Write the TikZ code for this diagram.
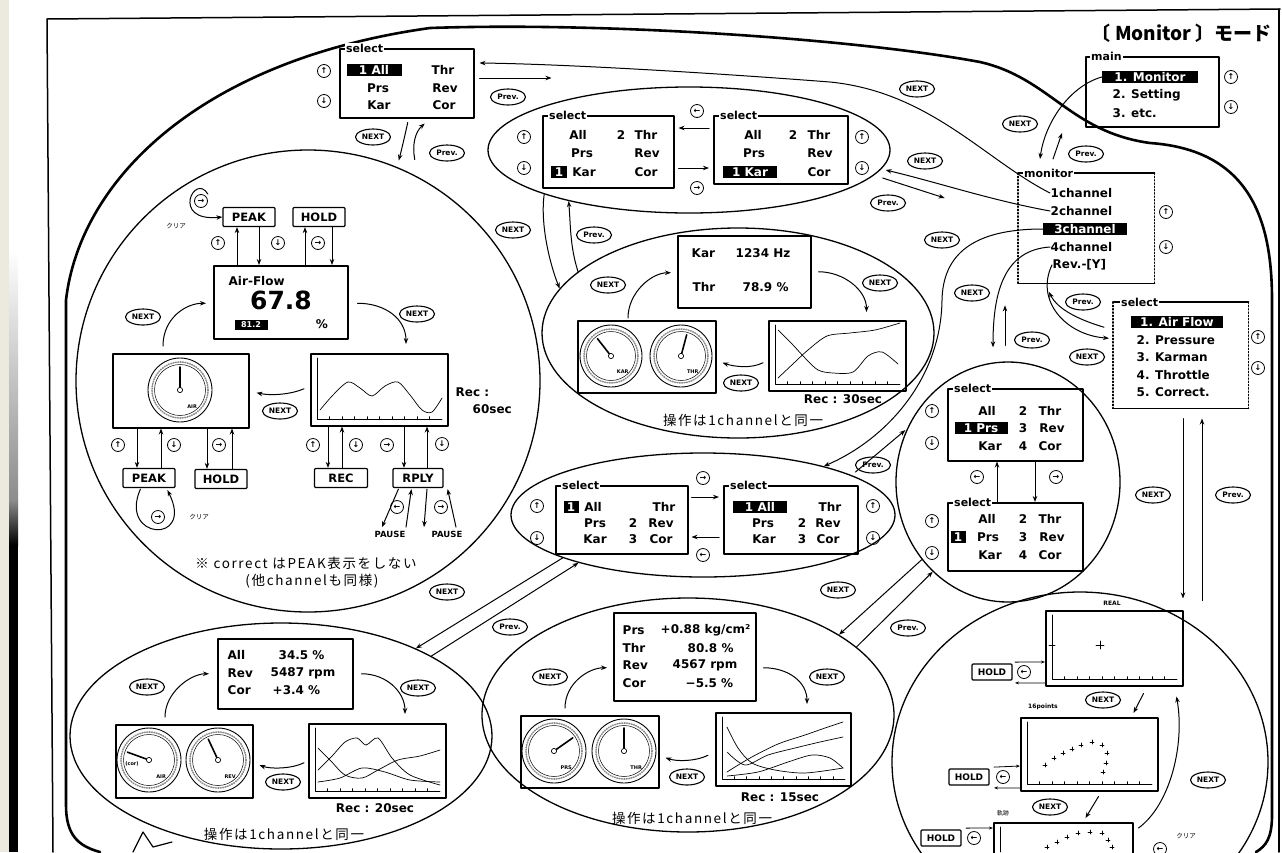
\documentclass[tikz,border=0pt]{standalone}
\usepackage{fontspec}
\setmainfont{DejaVu Sans}
\newfontfamily\jp{Noto Sans CJK JP}
\newfontfamily\jpw[LetterSpace=12]{Noto Sans CJK JP}
\usetikzlibrary{shapes.geometric,arrows.meta,calc}
\definecolor{beige}{RGB}{236,234,222}
\tikzset{
  frm/.style={line width=1.5pt},
  blob/.style={line width=2.6pt},
  oval/.style={draw, ellipse, line width=1.3pt, inner sep=0pt},
  box/.style={draw, line width=1.5pt, inner sep=0pt, anchor=north west},
  tag/.style={fill=white, inner sep=1pt, anchor=west, font=\fontsize{11}{12}\selectfont\bfseries},
  it/.style={inner sep=0.5pt, font=\fontsize{12}{13}\selectfont\bfseries},
  itw/.style={it, anchor=west},
  hl/.style={it, fill=black, text=white, inner sep=1.5pt},
  lb/.style={ellipse, draw, line width=1.1pt, inner sep=0pt, minimum width=35, minimum height=16, font=\fontsize{7.5}{8}\selectfont\bfseries},
  cb/.style={circle, draw, line width=0.8pt, inner sep=0pt, minimum size=13, font=\fontsize{8}{8}\selectfont\bfseries},
  arr/.style={-{Stealth[length=6pt,width=4.5pt]}, line width=1pt},
  sarr/.style={-{Stealth[length=4pt,width=3pt]}, line width=0.8pt},
  btn/.style={draw, line width=1.2pt, inner sep=1pt, minimum height=19, font=\fontsize{11.5}{12}\selectfont\bfseries, rounded corners=1pt},
  sbtn/.style={btn, minimum height=16, font=\fontsize{9}{10}\selectfont\bfseries},
  rec/.style={inner sep=0.5pt, font=\fontsize{12}{13}\selectfont\bfseries},
  pz/.style={inner sep=0.5pt, font=\fontsize{8.5}{9}\selectfont\bfseries},
  sm/.style={inner sep=0.5pt, font=\fontsize{6}{7}\selectfont\bfseries},
  gl/.style={inner sep=0pt, font=\fontsize{5}{5}\selectfont\bfseries},
  jt/.style={inner sep=0.5pt, font=\jpw\fontsize{13.5}{15}\selectfont},
  js/.style={inner sep=0.5pt, font=\jp\fontsize{6.5}{7}\selectfont},
  gline/.style={line width=0.7pt},
}
\newcommand\gaugeic[5]{%
  \draw[line width=0.9pt] (#1,#2) circle[radius=#3];
  \draw[line width=1.6pt, black!45, dash pattern=on 0.8pt off 1.6pt] (#1,#2) circle[radius=#3-4];
  \draw[line width=0.5pt] (#1,#2) circle[radius=#3-6.5];
  \draw[line width=1.6pt] (#1,#2) -- ++(#4:#3-9);
  \draw[fill=white, line width=0.7pt] (#1,#2) circle[radius=2.6];
  \node[gl] (gauge#1x#2) at ({#1+#3*0.38},{#2+#3*0.52}) {#5};
}
\newcommand\graphaxes[4]{%
  \draw[line width=0.7pt] ({#1+7},{#2+5}) -- ({#1+7},{#4-6}) -- ({#3-5},{#4-6});
  \foreach \k in {1,...,9} \draw[line width=0.4pt] ({#1+7+\k*(#3-#1-12)/10},{#4-6}) -- ++(0,-2.5);
}
\begin{document}
\begin{tikzpicture}[x=1pt,y=-1pt,line cap=round,line join=round]
\useasboundingbox (0,0) rectangle (1282,852);
\fill[white] (0,0) rectangle (1282,852);
\fill[beige] (0,0) rectangle (9,852);
\shade[top color=white, bottom color=black!45] (9,250) rectangle (18,500);
\shade[top color=black!45, bottom color=black] (9,500) rectangle (18,545);
\fill[black] (9,545) rectangle (18,852);
% frame
\draw[frm] (47,19) -- (1280,9);
\draw[frm] (47,19) -- (53,852);
\draw[frm] (1279,9) -- (1279,852);
% outer blob
\draw[blob] (100,852) .. controls (78,846) and (66,835) .. (66,805) -- (66,300)
  .. controls (80,180) and (200,60) .. (430,28)
  .. controls (600,22) and (850,38) .. (980,62)
  .. controls (1050,78) and (1070,132) .. (1150,143)
  .. controls (1250,150) and (1272,220) .. (1272,300) -- (1272,815)
  .. controls (1272,838) and (1266,846) .. (1256,852);
\draw[line width=1.2pt] (133,852) -- (143,832) -- (153,847) -- (172,842);
% title
\node[font=\jp\bfseries\fontsize{19}{20}\selectfont, anchor=east, inner sep=0] (title) at (1272,33) {〔 Monitor 〕モード};

% ===== main box
\node[box, minimum width=133, minimum height=70] (mainb) at (1085,56) {};
\node[tag] (maint) at ($(mainb.north west)+(5,0)$) {main};
\node[hl, minimum width=96] (m1) at (1150,77) {1. Monitor};
\node[itw] (m2) at (1112,95) {2. Setting};
\node[itw] (m3) at (1112,113) {3. etc.};
\node[cb] (mu) at (1231,77) {↑};
\node[cb] (md) at (1231,107) {↓};

% ===== monitor box
\node[box, draw=none, minimum width=135, minimum height=109] (mon) at (1018,173) {};
\draw[line width=1.5pt] (mon.north west) -- (mon.north east) (mon.south west) -- (mon.south east);
\draw[line width=1.3pt, dotted] (mon.north west) -- (mon.south west) (mon.north east) -- (mon.south east);
\node[tag] (mont) at ($(mon.north west)+(5,0)$) {monitor};
\node[itw] (c1) at (1050,193) {1channel};
\node[itw] (c2) at (1050,211) {2channel};
\node[hl, minimum width=84] (c3) at (1085,229) {3channel};
\node[itw] (c4) at (1050,247) {4channel};
\node[itw] (c5) at (1052,265) {Rev.-[Y]};
\node[cb] (monu) at (1166,212) {↑};
\node[cb] (mond) at (1166,247) {↓};

% ===== select list box
\node[box, draw=none, minimum width=134, minimum height=105] (lst) at (1113,302) {};
\draw[line width=1.5pt] (lst.north west) -- (lst.north east) (lst.south west) -- (lst.south east);
\draw[line width=1.3pt, dotted] (lst.north west) -- (lst.south west) (lst.north east) -- (lst.south east);
\node[tag] (lstt) at ($(lst.north west)+(7,0)$) {select};
\node[hl, minimum width=92] (l1) at (1177,322) {1. Air Flow};
\node[itw] (l2) at (1136,340) {2. Pressure};
\node[itw] (l3) at (1136,357) {3. Karman};
\node[itw] (l4) at (1136,375) {4. Throttle};
\node[itw] (l5) at (1136,392) {5. Correct.};
\node[cb] (lstu) at (1258,337) {↑};
\node[cb] (lstd) at (1258,368) {↓};

% ===== top select box (1channel)
\node[box, minimum width=134, minimum height=69] (s1) at (339,48) {};
\node[tag] (s1t) at ($(s1.north west)+(6,0)$) {select};
\node[hl, minimum width=55] (s1a) at (374,70) {1 All};
\node[it] (s1b) at (378,88) {Prs};
\node[it] (s1c) at (379,105) {Kar};
\node[it] (s1d) at (443,70) {Thr};
\node[it] (s1e) at (445,88) {Rev};
\node[it] (s1f) at (444,105) {Cor};
\node[cb] (s1u) at (324,71) {↑};
\node[cb] (s1w) at (324,101) {↓};

% ===== ellipse 2 (2channel select)
\node[oval, minimum width=402, minimum height=126] (e2) at (689,150) {};
\node[box, minimum width=131, minimum height=72] (s2a) at (542,115) {};
\node[tag] (s2at) at ($(s2a.north west)+(6,0)$) {select};
\node[it] (s2a1) at (578,135) {All};
\node[it] (s2a2) at (621,135) {2};
\node[it] (s2a3) at (646,135) {Thr};
\node[it] (s2a4) at (582,153) {Prs};
\node[it] (s2a5) at (647,153) {Rev};
\node[hl, minimum width=16] (s2a6) at (559,172) {1};
\node[it] (s2a7) at (584,172) {Kar};
\node[it] (s2a8) at (646,172) {Cor};
\node[cb] (s2au) at (524,137) {↑};
\node[cb] (s2ad) at (524,168) {↓};
\node[box, minimum width=134, minimum height=68] (s2b) at (713,115) {};
\node[tag] (s2bt) at ($(s2b.north west)+(6,0)$) {select};
\node[it] (s2b1) at (753,135) {All};
\node[it] (s2b2) at (793,135) {2};
\node[it] (s2b3) at (819,135) {Thr};
\node[it] (s2b4) at (754,153) {Prs};
\node[it] (s2b5) at (820,153) {Rev};
\node[hl, minimum width=54] (s2b6) at (750,172) {1 Kar};
\node[it] (s2b7) at (819,172) {Cor};
\node[cb] (s2bu) at (862,137) {↑};
\node[cb] (s2bd) at (862,168) {↓};
\node[cb] (e2l) at (697,111) {←};
\draw[arr] ($(s2b.north west)+(-4,13)$) -- ($(s2a.north east)+(4,13)$);
\draw[arr] ($(s2a.north east)+(4,53)$) -- ($(s2b.north west)+(-4,53)$);
\node[cb] (e2r) at (697,188) {→};

% ===== ellipse 3 (2channel display)
\node[oval, minimum width=392, minimum height=210] (e3) at (738,333) {};
\node[box, minimum width=133, minimum height=72] (t3) at (677,235) {};
\node[itw] (t3a) at (691,253) {Kar};
\node[itw] (t3b) at (735,253) {1234 Hz};
\node[itw] (t3c) at (692,287) {Thr};
\node[itw] (t3d) at (742,287) {78.9 \%};
\node[box, minimum width=138, minimum height=72] (g3) at (577,320) {};
\gaugeic{611}{356}{31}{-128}{KAR}
\gaugeic{681}{356}{31}{-75}{THR}
\node[box, minimum width=137, minimum height=70] (p3) at (768,320) {};
\graphaxes{768}{320}{905}{390}
\draw[gline] plot[smooth] coordinates {(778,330) (793,345) (805,358) (818,370) (833,373) (853,372) (868,356) (882,352) (898,364)};
\draw[gline] plot[smooth] coordinates {(778,378) (795,362) (808,350) (827,336) (850,333) (875,330) (900,323)};
\draw[arr] ($(g3.north west)+(51,-2)$) .. controls +(0,-25) and +(-20,0) .. ($(t3.west)+(-6,1)$);
\draw[arr] ($(t3.east)+(7,0)$) .. controls +(25,0) and +(0,-22) .. ($(p3.north east)+(-40,-8)$);
\draw[arr] ($(p3.west)+(-5,7)$) .. controls +(-12,6) and +(12,4) .. ($(g3.east)+(6,6)$);
\node[lb] (n3a) at (608,285) {NEXT};
\node[lb] (n3b) at (880,283) {NEXT};
\node[lb] (n3c) at (741,383) {NEXT};
\node[rec] (rec3) at (843,399) {Rec : 30sec};
\node[jt] (op3) at (743,420) {操作は1channelと同一};

% ===== ellipse 4 (3channel select)
\node[oval, minimum width=384, minimum height=124] (e4) at (703,515) {};
\node[box, minimum width=132, minimum height=68] (s4a) at (555,485) {};
\node[tag] (s4at) at ($(s4a.north west)+(6,0)$) {select};
\node[hl, minimum width=15] (s4a1) at (571,507) {1};
\node[it] (s4a2) at (593,507) {All};
\node[it] (s4a3) at (664,507) {Thr};
\node[it] (s4a4) at (595,523) {Prs};
\node[it] (s4a5) at (633,523) {2};
\node[it] (s4a6) at (661,523) {Rev};
\node[it] (s4a7) at (595,539) {Kar};
\node[it] (s4a8) at (633,539) {3};
\node[it] (s4a9) at (661,539) {Cor};
\node[cb] (s4au) at (537,506) {↑};
\node[cb] (s4ad) at (537,538) {↓};
\node[box, minimum width=134, minimum height=68] (s4b) at (723,485) {};
\node[tag] (s4bt) at ($(s4b.north west)+(6,0)$) {select};
\node[hl, minimum width=54] (s4b1) at (760,507) {1 All};
\node[it] (s4b2) at (830,507) {Thr};
\node[it] (s4b3) at (763,523) {Prs};
\node[it] (s4b4) at (802,523) {2};
\node[it] (s4b5) at (828,523) {Rev};
\node[it] (s4b6) at (764,539) {Kar};
\node[it] (s4b7) at (802,539) {3};
\node[it] (s4b8) at (828,539) {Cor};
\node[cb] (s4bu) at (873,506) {↑};
\node[cb] (s4bd) at (873,538) {↓};
\node[cb] (e4r) at (703,478) {→};
\draw[arr] ($(s4a.north east)+(3,12)$) -- ($(s4b.north west)+(-4,12)$);
\draw[arr] ($(s4b.north west)+(-4,52)$) -- ($(s4a.north east)+(3,52)$);
\node[cb] (e4l) at (703,555) {←};

% ===== 4channel select circle
\node[oval, minimum width=224, minimum height=240] (pc) at (1008,482) {};
\node[box, minimum width=135, minimum height=72] (sp1) at (947,388) {};
\node[tag] (sp1t) at ($(sp1.north west)+(6,0)$) {select};
\node[it] (sp1a) at (987,411) {All};
\node[it] (sp1b) at (1023,411) {2};
\node[it] (sp1c) at (1050,411) {Thr};
\node[hl, minimum width=53] (sp1d) at (981,428) {1 Prs};
\node[it] (sp1e) at (1023,428) {3};
\node[it] (sp1f) at (1052,428) {Rev};
\node[it] (sp1g) at (990,446) {Kar};
\node[it] (sp1h) at (1023,446) {4};
\node[it] (sp1i) at (1050,446) {Cor};
\node[cb] (sp1u) at (932,411) {↑};
\node[cb] (sp1w) at (932,443) {↓};
\node[box, minimum width=135, minimum height=68] (sp2) at (947,502) {};
\node[tag] (sp2t) at ($(sp2.north west)+(6,0)$) {select};
\node[it] (sp2a) at (987,519) {All};
\node[it] (sp2b) at (1023,519) {2};
\node[it] (sp2c) at (1050,519) {Thr};
\node[hl, minimum width=15] (sp2d) at (958,537) {1};
\node[it] (sp2e) at (988,537) {Prs};
\node[it] (sp2f) at (1023,537) {3};
\node[it] (sp2g) at (1052,537) {Rev};
\node[it] (sp2h) at (990,555) {Kar};
\node[it] (sp2i) at (1023,555) {4};
\node[it] (sp2j) at (1050,555) {Cor};
\node[cb] (sp2u) at (932,521) {↑};
\node[cb] (sp2w) at (932,553) {↓};
\node[cb] (pcl) at (977,477) {←};
\draw[arr] (sp2.north -| 997,0) -- (sp1.south -| 997,0);
\draw[arr] (sp1.south -| 1035,0) -- (sp2.north -| 1035,0);
\node[cb] (pcr) at (1056,477) {→};

% ===== left circle (1channel display)
\node[oval, minimum width=464, minimum height=462] (e1) at (308,381) {};
\node[btn, minimum width=52] (pk1) at (249,217) {PEAK};
\node[btn, minimum width=52] (hd1) at (319,217) {HOLD};
\node[cb] (cA) at (201,201) {→};
\node[js] (kr1) at (176,226) {クリア};
\draw[arr] ($(cA.north east)+(2,-2)$) .. controls (195,172) and (170,222) .. (pk1.west);
\node[box, minimum width=134, minimum height=73] (af) at (213,265) {};
\node[itw] (af1) at (228,281) {Air-Flow};
\node[font=\fontsize{25}{25}\selectfont\bfseries, inner sep=0] (af2) at (281,300) {67.8};
\node[hl, font=\fontsize{8}{9}\selectfont\bfseries, minimum width=33] (af3) at (251,325) {81.2};
\node[it] (af4) at (322,324) {\%};
\draw[arr] (af.north -| 237,0) -- (pk1.south -| 237,0);
\draw[arr] (pk1.south -| 259,0) -- (af.north -| 259,0);
\node[cb] (pk1u) at (218,243) {↑};
\node[cb] (pk1d) at (278,243) {↓};
\draw[arr] (af.north -| 305,0) -- (hd1.south -| 305,0);
\draw[arr] (hd1.south -| 332,0) -- (af.north -| 332,0);
\node[cb] (hd1c) at (318,243) {→};
\node[box, minimum width=136, minimum height=74] (gb1) at (112,353) {};
\gaugeic{180}{390}{32}{-90}{AIR}
\node[box, minimum width=137, minimum height=72] (gr1) at (310,353) {};
\graphaxes{310}{353}{447}{425}
\draw[gline] plot[smooth] coordinates {(320,410) (333,395) (348,382) (360,388) (372,396) (385,386) (398,382) (410,395) (422,410) (432,412) (442,398)};
\draw[arr] ($(gb1.north west)+(51,-7)$) .. controls +(0,-28) and +(-20,0) .. ($(af.west)+(-7,1)$);
\draw[arr] ($(af.east)+(9,1)$) .. controls +(28,0) and +(0,-25) .. ($(gr1.north west)+(96,-9)$);
\draw[arr] ($(gr1.west)+(-6,-1)$) .. controls +(-14,6) and +(14,3) .. ($(gb1.east)+(7,2)$);
\node[lb] (n1a) at (143,317) {NEXT};
\node[lb] (n1b) at (417,314) {NEXT};
\node[lb] (n1c) at (280,411) {NEXT};
\node[rec, anchor=west] (rec1) at (455,392) {Rec :};
\node[rec, anchor=west] (rec1b) at (472,409) {60sec};
\node[btn, minimum width=52] (pk2) at (149,478) {PEAK};
\node[btn, minimum width=52] (hd2) at (221,479) {HOLD};
\node[btn, minimum width=53] (recb) at (341,478) {REC};
\node[btn, minimum width=50] (rply) at (418,478) {RPLY};
\node[cb] (g1u) at (118,445) {↑};
\draw[arr] (gb1.south -| 137,0) -- (pk2.north -| 137,0);
\draw[arr] (pk2.north -| 161,0) -- (gb1.south -| 161,0);
\node[cb] (g1d) at (174,445) {↓};
\draw[arr] (gb1.south -| 207,0) -- (hd2.north -| 207,0);
\draw[arr] (hd2.north -| 232,0) -- (gb1.south -| 232,0);
\node[cb] (g1h) at (219,445) {→};
\node[cb] (r1u) at (313,445) {↑};
\draw[arr] (gr1.south -| 328,0) -- (recb.north -| 328,0);
\draw[arr] (recb.north -| 342,0) -- (gr1.south -| 342,0);
\node[cb] (r1d) at (356,445) {↓};
\node[cb] (r2l) at (387,445) {→};
\draw[arr] (gr1.south -| 404,0) -- (rply.north -| 404,0);
\draw[arr] (rply.north -| 427,0) -- (gr1.south -| 427,0);
\node[cb] (r2d) at (442,444) {↓};
\node[cb] (cB) at (158,517) {→};
\draw[arr] ($(pk2.south west)+(18,1)$) .. controls (118,540) and (195,545) .. ($(pk2.south west)+(45,2)$);
\node[js] (kr2) at (199,517) {クリア};
\node[pz] (pz1) at (390,534) {PAUSE};
\node[pz] (pz2) at (447,534) {PAUSE};
\draw[arr] ($(rply.south west)+(6,1)$) -- ($(pz1.north)+(-8,-3)$);
\draw[arr] ($(pz1.north)+(16,-3)$) -- ($(rply.south west)+(19,1)$);
\node[cb] (pzc1) at (397,507) {←};
\draw[arr] ($(rply.south)+(9,1)$) -- ($(pz2.north)+(-23,-3)$);
\draw[arr] ($(pz2.north)+(9,-3)$) -- ($(rply.south east)+(4,1)$);
\node[cb] (pzc2) at (441,507) {→};
\node[jt] (fn1) at (306,563) {※ correct はPEAK表示をしない};
\node[jt] (fn2) at (312,581) {(他channelも同様)};

% ===== bottom-left ellipse (3channel display)
\node[oval, minimum width=422, minimum height=226] (e5) at (281,736) {};
\node[box, minimum width=135, minimum height=70] (t5) at (217,638) {};
\node[itw] (t5a) at (227,655) {All};
\node[itw] (t5b) at (278,655) {34.5 \%};
\node[itw] (t5c) at (227,673) {Rev};
\node[itw] (t5d) at (270,673) {5487 rpm};
\node[itw] (t5e) at (227,690) {Cor};
\node[itw] (t5f) at (272,690) {+3.4 \%};
\node[box, minimum width=137, minimum height=73] (gb5) at (115,724) {};
\gaugeic{149}{760}{32}{-160}{AIR}
\node[gl] (corl) at (132,764) {(cor)};
\gaugeic{218}{760}{32}{-115}{REV}
\node[box, minimum width=137, minimum height=74] (gr5) at (308,723) {};
\graphaxes{308}{723}{445}{797}
\draw[gline] plot[smooth] coordinates {(318,748) (330,760) (345,775) (362,778) (378,770) (398,760) (420,756) (440,750)};
\draw[gline] plot[smooth] coordinates {(318,770) (333,755) (345,742) (357,738) (366,745) (378,738) (392,758) (410,775) (440,785)};
\draw[gline] plot[smooth] coordinates {(318,782) (340,778) (362,768) (385,772) (410,780) (440,782)};
\draw[arr] ($(gb5.north west)+(50,-7)$) .. controls +(0,-25) and +(-18,0) .. ($(t5.west)+(-8,0)$);
\draw[arr] ($(t5.east)+(8,0)$) .. controls +(25,0) and +(0,-22) .. ($(gr5.north west)+(97,-9)$);
\draw[arr] ($(gr5.west)+(-4,2)$) .. controls +(-12,6) and +(12,4) .. ($(gb5.east)+(6,4)$);
\node[lb] (n5a) at (147,687) {NEXT};
\node[lb] (n5b) at (418,688) {NEXT};
\node[lb] (n5c) at (283,782) {NEXT};
\node[rec] (rec5) at (375,808) {Rec : 20sec};
\node[jt] (op5) at (284,834) {操作は1channelと同一};

% ===== bottom-centre ellipse (4channel display)
\node[oval, minimum width=412, minimum height=234] (e6) at (688,715) {};
\node[box, minimum width=142, minimum height=88] (t6) at (613,612) {};
\node[itw] (t6a) at (622,630) {Prs};
\node[itw] (t6b) at (660,630) {+0.88 kg/cm²};
\node[itw] (t6c) at (622,648) {Thr};
\node[itw] (t6d) at (687,648) {80.8 \%};
\node[itw] (t6e) at (622,665) {Rev};
\node[itw] (t6f) at (672,665) {4567 rpm};
\node[itw] (t6g) at (622,683) {Cor};
\node[itw] (t6h) at (685,683) {−5.5 \%};
\node[box, minimum width=138, minimum height=72] (gb6) at (520,715) {};
\gaugeic{554}{751}{32}{-35}{PRS}
\gaugeic{624}{751}{32}{-90}{THR}
\node[box, minimum width=135, minimum height=73] (gr6) at (715,712) {};
\graphaxes{715}{712}{850}{785}
\draw[gline] plot[smooth] coordinates {(727,727) (738,748) (752,763) (775,770) (805,773) (843,768)};
\draw[gline] plot[smooth] coordinates {(727,772) (750,758) (778,744) (805,735) (825,728) (843,722)};
\draw[gline] plot[smooth] coordinates {(727,752) (745,765) (768,755) (795,748) (820,742) (843,737)};
\draw[gline] plot[smooth] coordinates {(727,776) (758,772) (788,762) (812,755) (830,758) (843,768)};
\draw[arr] ($(gb6.north west)+(45,-7)$) .. controls +(0,-25) and +(-18,0) .. ($(t6.west)+(-6,11)$);
\draw[arr] ($(t6.east)+(7,11)$) .. controls +(25,0) and +(0,-22) .. ($(gr6.north west)+(92,-8)$);
\draw[arr] ($(gr6.west)+(-7,6)$) .. controls +(-12,6) and +(12,4) .. ($(gb6.east)+(6,6)$);
\node[lb] (n6a) at (550,677) {NEXT};
\node[lb] (n6b) at (827,677) {NEXT};
\node[lb] (n6c) at (687,777) {NEXT};
\node[rec] (rec6) at (780,797) {Rec : 15sec};
\node[jt] (op6) at (692,818) {操作は1channelと同一};

% ===== bottom-right ellipse (graph display)
\node[oval, minimum width=376, minimum height=340] (e7) at (1080,762) {};
\node[sm] (real) at (1112,603) {REAL};
\node[box, minimum width=137, minimum height=75] (g71) at (1045,610) {};
\graphaxes{1045}{610}{1182}{685}
\draw[line width=0.8pt] (1096,645) -- (1104,645) (1100,641) -- (1100,649);
\draw[line width=0.8pt] (1049,645) -- (1055,645);
\node[sbtn, minimum width=40] (h71) at (992,672) {HOLD};
\node[cb] (h71c) at (1024,672) {←};
\draw[sarr] ($(h71c.north)+(-9,-3)$) -- (g71.west |- 0,662);
\draw[sarr] (g71.west |- 0,683) -- ($(h71c.south)+(-9,4)$);
\node[lb] (n71) at (1103,700) {NEXT};
\node[sm] (p16) at (1043,707) {16points};
\node[box, minimum width=137, minimum height=73] (g72) at (1020,717) {};
\graphaxes{1020}{717}{1157}{790}
\foreach \x/\y in {1045/765,1054/758,1063/753,1072/749,1081/745,1092/742,1102/745,1107/753,1106/763,1103/772}
  \draw[line width=0.7pt] (\x-2,\y) -- (\x+2,\y) (\x,\y-2) -- (\x,\y+2);
\draw[arr] ($(g71.south east)+(-40,7)$) -- ($(g72.north east)+(-25,-4)$);
\node[sbtn, minimum width=40] (h72) at (969,777) {HOLD};
\node[cb] (h72c) at (1003,777) {←};
\draw[sarr] ($(h72c.north)+(-9,-3)$) -- (g72.west |- 0,766);
\draw[sarr] (g72.west |- 0,788) -- ($(h72c.south)+(-9,4)$);
\node[lb] (n72) at (1050,807) {NEXT};
\node[font=\jp\fontsize{6}{7}\selectfont, inner sep=0] (kiseki) at (1003,813) {軌跡};
\node[box, minimum width=139, minimum height=50] (g73) at (993,822) {};
\draw[line width=0.7pt] (1000,827) -- (1000,852);
\foreach \x/\y in {1047/847,1057/842,1067/837,1078/833,1090/832,1102/833,1108/840,1112/847}
  \draw[line width=0.7pt] (\x-2,\y) -- (\x+2,\y) (\x,\y-2) -- (\x,\y+2);
\draw[arr] ($(g72.south east)+(-60,5)$) -- ($(g73.north east)+(-48,-4)$);
\node[sbtn, minimum width=40] (h73) at (941,838) {HOLD};
\node[cb] (h73c) at (974,838) {←};
\draw[sarr] ($(h73c.north)+(-8,-3)$) -- (g73.west |- 0,828);
\draw[arr] ($(g73.north east)+(5,6)$) .. controls (1170,805) and (1185,745) .. ($(g71.south east)+(-7,10)$);
\node[lb] (n73) at (1208,780) {NEXT};
\node[cb] (crr) at (1160,849) {←};
\node[js] (kr3) at (1186,836) {クリア};

% ===== connectors between screens
% main <-> monitor
\draw[arr] (m1.west) .. controls (1070,86) and (1045,122) .. ($(mon.north west)+(22,-14)$);
\draw[arr] ($(mon.north west)+(35,-14)$) -- ($(mon.north west)+(44,-40)$);
\node[lb] (nm) at (1020,124) {NEXT};
\node[lb] (pm) at (1086,154) {Prev.};
% 1channel -> top select
\draw[arr] (c1.west) .. controls (985,160) and (930,92) .. (830,82) .. controls (700,72) and (560,64) .. ($(s1.north east)+(5,15)$);
\draw[arr] ($(s1.north east)+(5,30)$) -- ++(72,0);
\node[lb] (nc1) at (917,89) {NEXT};
\node[lb] (pc1) at (508,97) {Prev.};
% top select <-> left circle
\draw[arr] ($(s1.south)+(1,4)$) .. controls (405,135) and (402,148) .. ($(s1.south)+(-8,42)$);
\draw[arr] ($(s1.south)+(8,41)$) .. controls (412,145) and (415,132) .. ($(s1.south)+(18,5)$);
\node[lb] (ns1) at (373,137) {NEXT};
\node[lb] (ps1) at (447,153) {Prev.};
% 2channel -> ellipse 2
\draw[arr] (c2.west) .. controls (990,200) and (940,183) .. ($(e2.east)+(-5,20)$);
\draw[arr] ($(e2.east)+(-8,28)$) -- ++(62,20);
\node[lb] (nc2) at (925,161) {NEXT};
\node[lb] (pc2) at (888,203) {Prev.};
% ellipse 2 <-> ellipse 3
\draw[arr] (e2.197) .. controls +(-4,30) and +(-10,-25) .. (e3.166);
\draw[arr] (e3.159) .. controls +(-8,-25) and +(2,25) .. (e2.203);
\node[lb] (ne2) at (513,230) {NEXT};
\node[lb] (pe2) at (594,235) {Prev.};
% 3channel -> ellipse 4
\draw[arr] (c3.west) .. controls (972,229) and (943,255) .. (942,300) .. controls (941,380) and (885,440) .. (e4.22);
\draw[arr] ($(e4.17)+(12,0)$) -- ++(50,-42);
\node[lb] (nc3) at (942,240) {NEXT};
\node[lb] (pc3) at (873,465) {Prev.};
% ellipse 4 <-> ellipse 5
\draw[arr] (e4.197) -- (e5.33);
\draw[arr] (e5.28) -- (e4.201);
\node[lb] (ne4) at (447,592) {NEXT};
\node[lb] (pe4) at (510,627) {Prev.};
% 4channel -> circle
\draw[arr] (c4.west) .. controls (1005,250) and (993,290) .. ($(pc.north)+(-15,-14)$);
\draw[arr] ($(pc.north)+(-3,-16)$) -- ++(0,-40);
\node[lb] (nc4) at (972,293) {NEXT};
\node[lb] (pc4) at (1032,340) {Prev.};
% circle <-> ellipse 6
\draw[arr] (pc.222) -- (e6.28);
\draw[arr] (e6.22) -- (pc.230);
\node[lb] (npc) at (838,590) {NEXT};
\node[lb] (ppc) at (908,628) {Prev.};
% Rev -> list
\draw[arr] (c5.west) .. controls (1035,300) and (1065,335) .. ($(lst.west)+(-4,-17)$);
\draw[arr] ($(lst.west)+(-9,-28)$) .. controls (1080,320) and (1058,310) .. (1049,292);
\node[lb] (pc5) at (1083,302) {Prev.};
\node[lb] (nc5) at (1087,357) {NEXT};
% list <-> ellipse 7
\draw[arr] ($(lst.south west)+(70,10)$) -- ($(lst.south west)+(70,190)$);
\draw[arr] ($(lst.south west)+(89,192)$) -- ($(lst.south west)+(89,10)$);
\node[lb] (nls) at (1153,495) {NEXT};
\node[lb] (pls) at (1233,495) {Prev.};
\end{tikzpicture}
\end{document}
